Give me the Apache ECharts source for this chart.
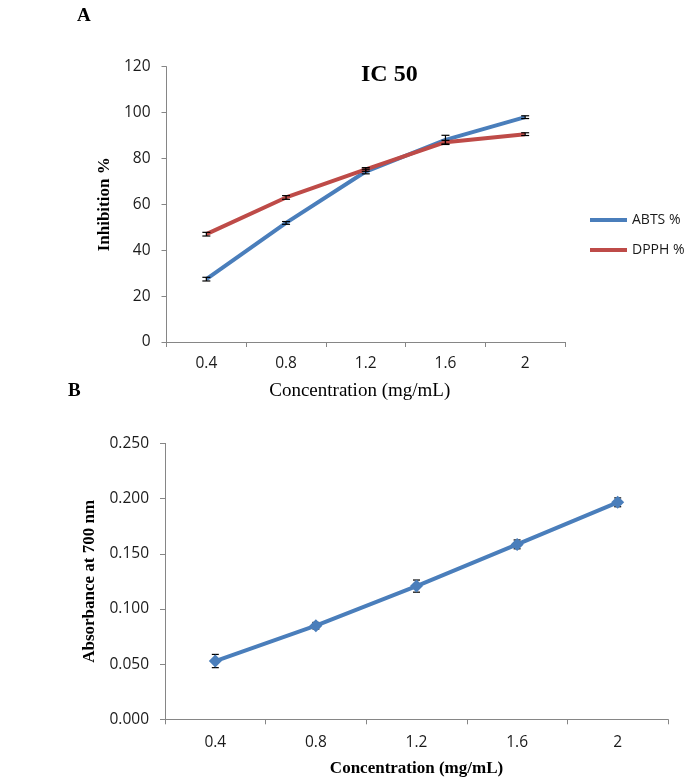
<!DOCTYPE html>
<html>
<head>
<meta charset="utf-8">
<script src="https://cdn.jsdelivr.net/npm/echarts@6/dist/echarts.min.js"></script>
<style>
html,body{margin:0;padding:0;background:#fff;}
#chart{width:685px;height:779px;}
</style>
</head>
<body>
<div id="chart"></div>
<script>
// ---- data ----
var categories = ['0.4', '0.8', '1.2', '1.6', '2'];
var abts = [27.4, 51.9, 74.3, 88.1, 98.0];
var abtsErr = [0.8, 0.6, 1.0, 2.0, 0.6];
var dpph = [47.0, 63.0, 75.2, 87.1, 90.6];
var dpphErr = [0.8, 0.8, 0.8, 0.8, 0.6];
var absorb = [0.0528, 0.0848, 0.1207, 0.1585, 0.1966];
var absorbErr = [0.006, 0.003, 0.0055, 0.004, 0.004];
var yTicksA = { min: 0, max: 120, interval: 20 };
var yTicksB = { min: 0, max: 0.25, interval: 0.05 };

function errData(vals, errs) {
  return vals.map(function (v, i) { return [i, v - errs[i], v + errs[i]]; });
}
function errRender(capHalf, width) {
  return function (params, api) {
    var x = api.value(0);
    var p1 = api.coord([x, api.value(2)]);
    var p2 = api.coord([x, api.value(1)]);
    var st = { stroke: '#000', lineWidth: width };
    return {
      type: 'group',
      children: [
        { type: 'line', shape: { x1: p1[0], y1: p1[1], x2: p2[0], y2: p2[1] }, style: st },
        { type: 'line', shape: { x1: p1[0] - capHalf, y1: p1[1], x2: p1[0] + capHalf, y2: p1[1] }, style: st },
        { type: 'line', shape: { x1: p2[0] - capHalf, y1: p2[1], x2: p2[0] + capHalf, y2: p2[1] }, style: st }
      ]
    };
  };
}

var axisGray = '#868686';
var tickFont = { fontFamily: 'Open Sans', fontSize: 15.5, color: '#1a1a1a' };
var blue = '#4A7EBB', red = '#BE4B48';

var chart = echarts.init(document.getElementById('chart'), null, { renderer: 'canvas' });
chart.setOption({
  animation: false,
  backgroundColor: '#fff',
  graphic: [
    { type: 'text', left: 77, top: 7, style: { text: 'A', font: 'bold 19px "Liberation Serif"', fill: '#000' } },
    { type: 'text', left: 68, top: 382, style: { text: 'B', font: 'bold 19px "Liberation Serif"', fill: '#000' } },
    { type: 'text', left: 361, top: 63, style: { text: 'IC 50', font: 'bold 24px "Liberation Serif"', fill: '#000' } }
  ],
  legend: {
    data: ['ABTS %', 'DPPH %'],
    orient: 'vertical',
    left: 590,
    top: 212,
    padding: 0,
    itemWidth: 37,
    itemHeight: 4,
    itemGap: 14,
    itemTextGap: 3,
    icon: 'rect',
    textStyle: { fontFamily: 'Open Sans', fontSize: 14, color: '#1a1a1a', lineHeight: 16 }
  },
  grid: [
    { left: 166.5, right: 120, top: 66.7, bottom: 437, containLabel: false },
    { left: 165, right: 17, top: 443.4, bottom: 59.7, containLabel: false }
  ],
  xAxis: [
    {
      gridIndex: 0, type: 'category', data: categories, boundaryGap: true,
      axisLine: { show: true, lineStyle: { color: axisGray, width: 1 } },
      axisTick: { show: true, length: 5, lineStyle: { color: axisGray } },
      axisLabel: Object.assign({ margin: 14 }, tickFont),
      splitLine: { show: false },
      name: 'Concentration (mg/mL)', nameLocation: 'middle', nameGap: 40,
      nameTextStyle: { fontFamily: 'Liberation Serif', fontSize: 19, color: '#000', padding: [0, 12, 0, 0] }
    },
    {
      gridIndex: 1, type: 'category', data: categories, boundaryGap: true,
      axisLine: { show: true, lineStyle: { color: axisGray, width: 1 } },
      axisTick: { show: true, length: 5, lineStyle: { color: axisGray } },
      axisLabel: Object.assign({ margin: 15 }, tickFont),
      splitLine: { show: false },
      name: 'Concentration (mg/mL)', nameLocation: 'middle', nameGap: 41,
      nameTextStyle: { fontFamily: 'Liberation Serif', fontSize: 17, fontWeight: 'bold', color: '#000' }
    }
  ],
  yAxis: [
    {
      gridIndex: 0, type: 'value', min: yTicksA.min, max: yTicksA.max, interval: yTicksA.interval,
      axisLine: { show: true, lineStyle: { color: axisGray, width: 1 } },
      axisTick: { show: true, length: 5, lineStyle: { color: axisGray } },
      axisLabel: Object.assign({ margin: 16 }, tickFont),
      splitLine: { show: false },
      name: 'Inhibition %', nameLocation: 'middle', nameGap: 48,
      nameTextStyle: { fontFamily: 'Liberation Serif', fontSize: 17, fontWeight: 'bold', color: '#000' }
    },
    {
      gridIndex: 1, type: 'value', min: yTicksB.min, max: yTicksB.max, interval: yTicksB.interval,
      axisLine: { show: true, lineStyle: { color: axisGray, width: 1 } },
      axisTick: { show: true, length: 5, lineStyle: { color: axisGray } },
      axisLabel: Object.assign({ margin: 16, formatter: function (v) { return v.toFixed(3); } }, tickFont),
      splitLine: { show: false },
      name: 'Absorbance at 700 nm', nameLocation: 'middle', nameGap: 61,
      nameTextStyle: { fontFamily: 'Liberation Serif', fontSize: 17, fontWeight: 'bold', color: '#000' }
    }
  ],
  series: [
    {
      name: 'ABTS %', type: 'line', xAxisIndex: 0, yAxisIndex: 0, data: abts,
      showSymbol: false, symbol: 'none', lineStyle: { color: blue, width: 4 }, itemStyle: { color: blue }, z: 2
    },
    {
      name: 'DPPH %', type: 'line', xAxisIndex: 0, yAxisIndex: 0, data: dpph,
      showSymbol: false, symbol: 'none', lineStyle: { color: red, width: 4 }, itemStyle: { color: red }, z: 2
    },
    {
      name: 'abtsErr', type: 'custom', xAxisIndex: 0, yAxisIndex: 0, data: errData(abts, abtsErr),
      renderItem: errRender(4, 1.2), z: 3, silent: true
    },
    {
      name: 'dpphErr', type: 'custom', xAxisIndex: 0, yAxisIndex: 0, data: errData(dpph, dpphErr),
      renderItem: errRender(4, 1.2), z: 3, silent: true
    },
    {
      name: 'absorbErr', type: 'custom', xAxisIndex: 1, yAxisIndex: 1, data: errData(absorb, absorbErr),
      renderItem: errRender(3.5, 1.2), z: 1, silent: true
    },
    {
      name: 'Absorbance', type: 'line', xAxisIndex: 1, yAxisIndex: 1, data: absorb,
      symbol: 'diamond', symbolSize: 13, showSymbol: true,
      lineStyle: { color: blue, width: 4 }, itemStyle: { color: blue }, z: 2
    }
  ]
});
</script>
</body>
</html>
